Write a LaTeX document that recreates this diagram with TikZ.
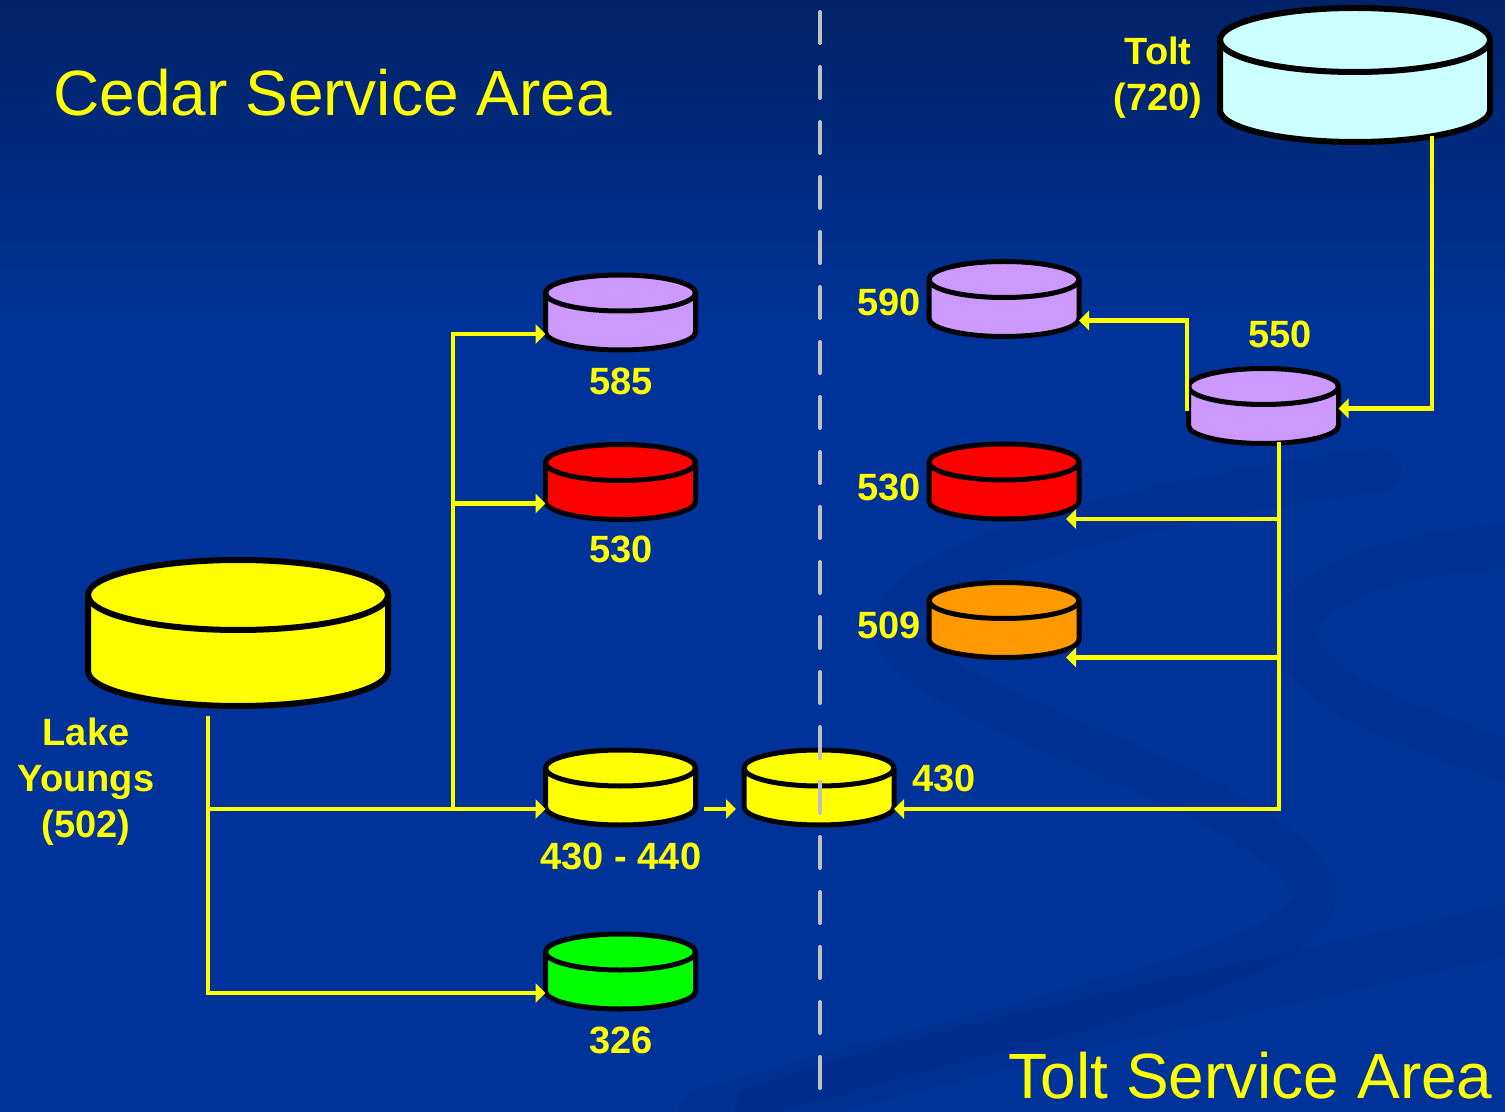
\documentclass[tikz,border=0pt]{standalone}
\usepackage{fontspec}
\setmainfont{Liberation Sans}
\usetikzlibrary{arrows.meta,calc}
\definecolor{bgmid}{RGB}{0,51,153}
\definecolor{bgtop}{RGB}{0,34,104}
\definecolor{swooshc}{RGB}{0,36,120}
\definecolor{lineyellow}{RGB}{255,255,0}
\definecolor{tyellow}{RGB}{255,255,0}
\definecolor{tlilac}{RGB}{204,153,255}
\definecolor{tred}{RGB}{255,0,0}
\definecolor{torange}{RGB}{255,153,0}
\definecolor{tgreen}{RGB}{0,255,0}
\definecolor{tcyan}{RGB}{204,255,255}
\definecolor{dashgray}{RGB}{192,192,192}
\tikzset{
  pics/tank/.style n args={5}{code={
    \filldraw[fill=#4, draw=black, line width=#5, line join=round]
      (-#1,0) -- (-#1,#3) arc[start angle=180,end angle=0,x radius=#1,y radius=#2]
      -- (#1,0) arc[start angle=0,end angle=-180,x radius=#1,y radius=#2] -- cycle;
    \draw[black, line width=#5] (-#1,0) arc[start angle=180,end angle=0,x radius=#1,y radius=#2];
    \coordinate (-c) at (0,0);
    \coordinate (-w) at (-#1,#3+2);
    \coordinate (-e) at (#1,#3+2);
  }},
  flow/.style={draw=lineyellow, line width=2.2pt, -{Triangle[length=5pt,width=9.5pt]}},
  swoosh/.style={draw=swooshc, line width=22pt, opacity=0.17, line cap=round},
  divider/.style={draw=dashgray, line width=2pt, line cap=round, dash pattern=on 15.5pt off 12pt},
  areatitle/.style={text=tyellow, inner sep=0pt, font=\fontsize{32}{38}\selectfont},
  lbl/.style={text=tyellow, inner sep=0pt, align=center, font=\bfseries\fontsize{19}{23}\selectfont},
}
\begin{document}
\begin{tikzpicture}[x=0.5pt,y=-0.5pt]
\useasboundingbox (0,0) rectangle (1505,1112);
% background
\fill[bgmid] (0,0) rectangle (1505,1112);
\shade[top color=bgtop, bottom color=bgmid] (0,0) rectangle (1505,330);
\draw[swoosh] (1380,470) .. controls (1150,500) and (900,560) .. (895,625)
  .. controls (890,700) and (1250,780) .. (1310,880)
  .. controls (1360,960) and (1000,1020) .. (700,1112);
\draw[swoosh] (1505,545) .. controls (1350,560) and (1280,600) .. (1300,650)
  .. controls (1320,700) and (1450,740) .. (1505,760);
\draw[swoosh, line width=26pt] (1505,930) .. controls (1200,1000) and (900,1060) .. (760,1112);

% titles
\node[areatitle, anchor=base west] (cedartitle) at (53,116) {Cedar Service Area};
\node[areatitle, anchor=base east] (tolttitle) at (1493,1098) {Tolt Service Area};

% tanks
\pic (ly) at (238,595) {tank={150}{35}{76}{tyellow}{3pt}};
\pic (tolt) at (1355,40) {tank={135}{32}{70}{tcyan}{3pt}};
\pic (t585) at (620.5,293) {tank={75}{18}{39}{tlilac}{2.5pt}};
\pic (t530a) at (620.5,462.5) {tank={75}{18}{39}{tred}{2.5pt}};
\pic (t430a) at (620.5,768) {tank={75}{18}{39}{tyellow}{2.5pt}};
\pic (t326) at (620.5,952) {tank={75}{18}{39}{tgreen}{2.5pt}};
\pic (t430b) at (819,768) {tank={75}{18}{39}{tyellow}{2.5pt}};
\pic (t590) at (1004,279.5) {tank={75}{18}{39}{tlilac}{2.5pt}};
\pic (t530b) at (1004,462) {tank={75}{18}{39}{tred}{2.5pt}};
\pic (t509) at (1004,600.5) {tank={75}{18}{39}{torange}{2.5pt}};
\pic (t550) at (1263.5,386.5) {tank={75}{18}{39}{tlilac}{2.5pt}};

% labels
\node[lbl] (lylbl) at (86,782) {Lake\\Youngs\\(502)};
\node[lbl] (toltlbl) at (1158,78) {Tolt\\(720)};
\node[lbl] (l585) at (621,381) {585};
\node[lbl] (l530a) at (621,549) {530};
\node[lbl] (l430a) at (621,856) {430 - 440};
\node[lbl] (l326) at (621,1040) {326};
\node[lbl, anchor=east] (l590) at (921,302) {590};
\node[lbl, anchor=east] (l530b) at (921,487) {530};
\node[lbl, anchor=east] (l509) at (921,625) {509};
\node[lbl, anchor=west] (l430b) at (912,778) {430};
\node[lbl] (l550) at (1280,334) {550};

% connection points
\coordinate (lysrc) at ($(ly-c)+(-30,121)$);
\coordinate (split) at ($(t430a-w)+(-92.5,0)$);
\coordinate (toltout) at ($(tolt-c)+(77,96)$);
\coordinate (in550) at ($(t550-c)+(75,22)$);
\coordinate (out550w) at ($(t550-c)+(-76.5,25)$);
\coordinate (out550s) at ($(t550-c)+(15.5,56)$);
\coordinate (in530b) at ($(t530b-c)+(62,57)$);
\coordinate (in509) at ($(t509-c)+(62,57)$);

% connectors: Cedar side
\draw[flow] (lysrc) |- (t326-w);
\draw[flow] (lysrc |- t430a-w) -- (t430a-w);
\draw[flow] (split) |- (t585-w);
\draw[flow] (split) |- (t530a-w);
\draw[flow] ($(t430a-e)+(8,0)$) -- ($(t430b-w)+(-8,0)$);

% connectors: Tolt side
\draw[flow] (toltout) |- (in550);
\draw[flow] (out550w) |- (t590-e);
\draw[flow] (out550s) |- (t430b-e);
\draw[flow] (out550s |- in530b) -- (in530b);
\draw[flow] (out550s |- in509) -- (in509);

% service area divider
\coordinate (divtop) at (820,12);
\coordinate (divbot) at (820,1100);
\draw[divider] (divtop) -- (divbot);
\end{tikzpicture}
\end{document}
